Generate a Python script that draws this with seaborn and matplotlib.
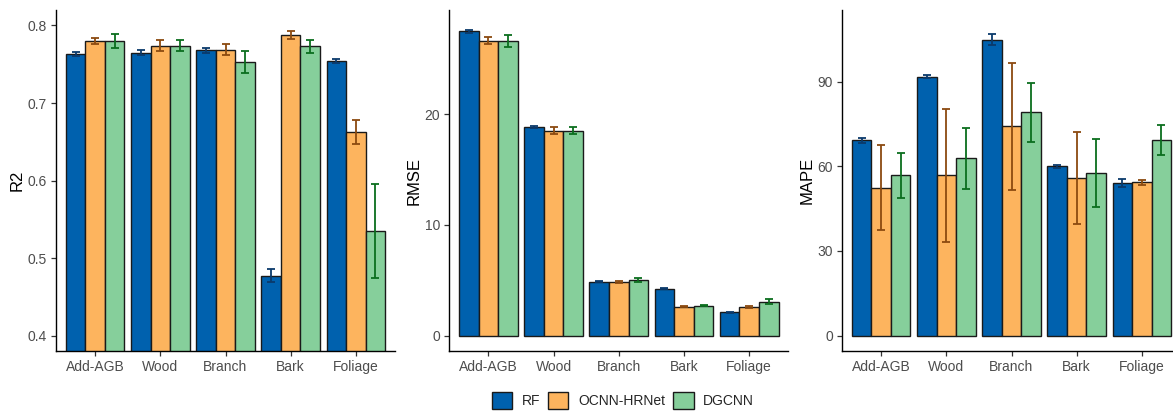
import numpy as np
import pandas as pd
import seaborn as sns
import matplotlib
matplotlib.use("Agg")
import matplotlib.pyplot as plt
from matplotlib.patches import Patch

sns.set_theme(style="white")
plt.rcParams["font.family"] = ["Liberation Sans", "DejaVu Sans"]

# ---- data -------------------------------------------------------------
categories = ["Add-AGB", "Wood", "Branch", "Bark", "Foliage"]
models = ["RF", "OCNN-HRNet", "DGCNN"]

r2_rf = [0.763, 0.765, 0.768, 0.477, 0.754]
r2_ocnn = [0.780, 0.774, 0.769, 0.788, 0.663]
r2_dgcnn = [0.780, 0.774, 0.753, 0.773, 0.535]
r2_rf_sd = [0.003, 0.003, 0.003, 0.0086, 0.003]
r2_ocnn_sd = [0.004, 0.0075, 0.0075, 0.0055, 0.0155]
r2_dgcnn_sd = [0.009, 0.0075, 0.014, 0.0086, 0.0606]

rmse_rf = [27.47, 18.86, 4.85, 4.24, 2.10]
rmse_ocnn = [26.62, 18.50, 4.85, 2.59, 2.59]
rmse_dgcnn = [26.62, 18.50, 4.99, 2.68, 3.07]
rmse_rf_sd = [0.15, 0.10, 0.05, 0.05, 0.03]
rmse_ocnn_sd = [0.30, 0.30, 0.10, 0.05, 0.08]
rmse_dgcnn_sd = [0.55, 0.30, 0.20, 0.05, 0.22]

mape_rf = [69.3, 91.9, 105.0, 60.1, 54.2]
mape_ocnn = [52.5, 56.9, 74.2, 55.8, 54.3]
mape_dgcnn = [56.8, 62.9, 79.2, 57.7, 69.4]
mape_rf_sd = [0.9, 0.5, 2.0, 0.5, 1.5]
mape_ocnn_sd = [15.2, 23.6, 22.4, 16.4, 1.0]
mape_dgcnn_sd = [7.9, 10.8, 10.5, 12.0, 5.2]

metrics = [
    ("R2", [r2_rf, r2_ocnn, r2_dgcnn], [r2_rf_sd, r2_ocnn_sd, r2_dgcnn_sd],
     (0.38, 0.82), [0.4, 0.5, 0.6, 0.7, 0.8], ["0.4", "0.5", "0.6", "0.7", "0.8"]),
    ("RMSE", [rmse_rf, rmse_ocnn, rmse_dgcnn], [rmse_rf_sd, rmse_ocnn_sd, rmse_dgcnn_sd],
     (-1.4, 29.4), [0, 10, 20], ["0", "10", "20"]),
    ("MAPE", [mape_rf, mape_ocnn, mape_dgcnn], [mape_rf_sd, mape_ocnn_sd, mape_dgcnn_sd],
     (-5.5, 115.5), [0, 30, 60, 90], ["0", "30", "60", "90"]),
]

fill_colors = ["#0061AE", "#FDB45E", "#86CF9B"]
err_colors = ["#0B3A6B", "#8B4A10", "#0B6E1E"]

# ---- figure -----------------------------------------------------------
fig = plt.figure(figsize=(11.73, 4.11), dpi=100)
W, H = 1173, 411
panel_left = [56, 449.3, 842]
panel_w = 339
top_px, bottom_px = 10, 351

for (ylabel, vals, sds, ylim, yticks, yticklabels), lx in zip(metrics, panel_left):
    ax = fig.add_axes([lx / W, (H - bottom_px) / H, panel_w / W, (bottom_px - top_px) / H])
    df = pd.DataFrame({
        "category": np.repeat([categories], len(models), axis=0).ravel(),
        "model": np.repeat(models, len(categories)),
        "value": np.concatenate(vals),
    })
    sns.barplot(data=df, x="category", y="value", hue="model",
                order=categories, hue_order=models, palette=fill_colors,
                width=0.9, errorbar=None, edgecolor="#1a1a1a", linewidth=1.0,
                legend=False, ax=ax, saturation=1)
    for container, v, sd, ec in zip(ax.containers, vals, sds, err_colors):
        xs = [b.get_x() + b.get_width() / 2 for b in container]
        ax.errorbar(xs, v, yerr=sd, fmt="none", ecolor=ec, elinewidth=1.3,
                    capsize=2.6, capthick=1.3, zorder=5)
    ax.set_xlim(-0.6, 4.6)
    ax.set_ylim(*ylim)
    ax.set_yticks(yticks)
    ax.set_yticklabels(yticklabels)
    ax.set_xlabel("")
    ax.set_ylabel(ylabel, fontsize=12, color="black", labelpad=2)
    for s in ["top", "right"]:
        ax.spines[s].set_visible(False)
    for s in ["left", "bottom"]:
        ax.spines[s].set_color("black")
        ax.spines[s].set_linewidth(1.0)
    ax.tick_params(axis="both", which="both", direction="out", length=3.5,
                   width=0.9, color="#333333", labelcolor="#4D4D4D",
                   labelsize=10, pad=3, left=True, bottom=True)

handles = [Patch(facecolor=c, edgecolor="#1a1a1a", linewidth=1.0) for c in fill_colors]
fig.legend(handles, models, loc="center", bbox_to_anchor=(0.531, 0.025), ncol=3,
           frameon=False, fontsize=10, handlelength=1.45, handleheight=1.45,
           handletextpad=0.7, columnspacing=0.6)

fig.savefig("out.png", dpi=100)
